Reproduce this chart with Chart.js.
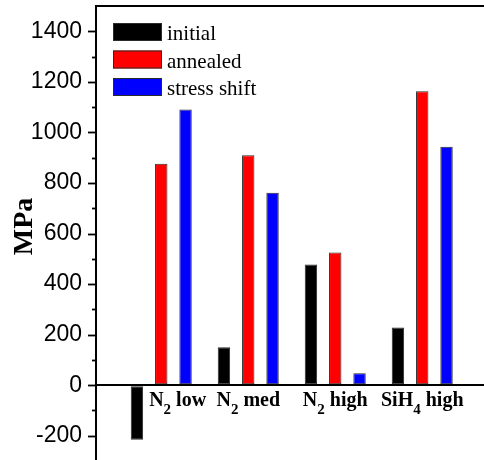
<!DOCTYPE html>
<html>
<head>
<meta charset="utf-8">
<script src="https://cdn.jsdelivr.net/npm/chart.js@4/dist/chart.umd.min.js"></script>
<style>
  html, body { margin: 0; padding: 0; background: #ffffff; }
  canvas { display: block; }
</style>
</head>
<body>
<canvas id="chart" width="484" height="460"></canvas>
<script>
// Film stress per deposition condition (MPa)
const categories = ['N₂ low', 'N₂ med', 'N₂ high', 'SiH₄ high'];
const seriesNames = ['initial', 'annealed', 'stress shift'];
const initial = [-216, 150, 477, 228];
const annealed = [876, 910, 525, 1163];
const stressShift = [1091, 761, 47, 943];
const yTickLabels = [-200, 0, 200, 400, 600, 800, 1000, 1200, 1400];
const yMinorTicks = [-100, 100, 300, 500, 700, 900, 1100, 1300];
const axisTitle = 'MPa';

const seriesColors = ['#000000', '#ff0000', '#0000ff'];
const serif = '"Liberation Serif", "Times New Roman", serif';

// one point per category, placed at x = 1, 2, 3, 4 on a linear axis
const toPoints = vals => vals.map((v, i) => ({ x: i + 1, y: v }));

const datasets = [initial, annealed, stressShift].map((vals, k) => ({
  label: seriesNames[k],
  data: toPoints(vals),
  backgroundColor: seriesColors[k],
  borderColor: '#2b2b2b',
  borderWidth: 1,
  borderSkipped: false,
  categoryPercentage: 0.838,
  barPercentage: 0.51
}));

// draws text where unicode subscript digits are rendered smaller and lowered
const SUB = { '₀': '0', '₁': '1', '₂': '2', '₃': '3', '₄': '4', '₅': '5', '₆': '6', '₇': '7', '₈': '8', '₉': '9' };
function richRuns(text) {
  const runs = [];
  for (const ch of text) {
    const sub = ch in SUB;
    const c = sub ? SUB[ch] : ch;
    const last = runs[runs.length - 1];
    if (last && last.sub === sub) last.text += c; else runs.push({ text: c, sub });
  }
  return runs;
}
function drawRich(ctx, text, x, y, align) {
  const mainFont = 'bold 20px ' + serif;
  const subFont = 'bold 15px ' + serif;
  const runs = richRuns(text);
  let total = 0;
  runs.forEach(r => { ctx.font = r.sub ? subFont : mainFont; r.w = ctx.measureText(r.text).width; total += r.w; });
  let cx = align === 'center' ? x - total / 2 : x;
  ctx.textAlign = 'left';
  ctx.textBaseline = 'alphabetic';
  runs.forEach(r => {
    ctx.font = r.sub ? subFont : mainFont;
    ctx.fillText(r.text, cx, r.sub ? y + 8 : y);
    cx += r.w;
  });
}

const decorations = {
  id: 'decorations',
  afterDraw(chart) {
    const { ctx, chartArea } = chart;
    const xs = chart.scales.x, ys = chart.scales.y;
    ctx.save();
    ctx.strokeStyle = '#000';
    ctx.fillStyle = '#000';

    // top frame line
    ctx.lineWidth = 2;
    ctx.beginPath();
    ctx.moveTo(chartArea.left - 1, chartArea.top);
    ctx.lineTo(chartArea.right, chartArea.top);
    ctx.stroke();

    // outward major / minor tick marks on the value axis
    ctx.lineWidth = 1.8;
    ys.ticks.forEach(t => {
      const y = Math.round(ys.getPixelForValue(t.value)) + 0.5;
      const len = yTickLabels.includes(t.value) ? 8 : 4;
      ctx.beginPath();
      ctx.moveTo(chartArea.left - len, y);
      ctx.lineTo(chartArea.left, y);
      ctx.stroke();
    });

    // axis title, rotated
    ctx.save();
    ctx.translate(32, (ys.getPixelForValue(1400) + ys.getPixelForValue(-200)) / 2 - 7);
    ctx.rotate(-Math.PI / 2);
    ctx.font = 'bold 28px ' + serif;
    ctx.textAlign = 'center';
    ctx.textBaseline = 'alphabetic';
    ctx.fillText(axisTitle, 0, 0);
    ctx.restore();

    // category labels just under the zero line
    const y0 = ys.getPixelForValue(0);
    const firstMeta = chart.getDatasetMeta(0);
    categories.forEach((label, i) => {
      if (initial[i] < 0) {
        const bar = firstMeta.data[i];
        drawRich(ctx, label, bar.x + bar.width / 2 + 6, y0 + 21, 'left');
      } else {
        drawRich(ctx, label, xs.getPixelForValue(i + 1), y0 + 21, 'center');
      }
    });

    // legend
    chart.data.datasets.forEach((ds, k) => {
      const top = 23 + k * 27.5;
      ctx.fillStyle = ds.backgroundColor;
      ctx.fillRect(113, top, 49, 18);
      ctx.strokeStyle = '#2b2b2b';
      ctx.lineWidth = 1;
      ctx.strokeRect(113.5, top + 0.5, 48, 17);
      ctx.fillStyle = '#000';
      ctx.font = '21px ' + serif;
      ctx.textAlign = 'left';
      ctx.textBaseline = 'alphabetic';
      ctx.fillText(ds.label, 167, top + 17);
    });
    ctx.restore();
  }
};

new Chart(document.getElementById('chart').getContext('2d'), {
  type: 'bar',
  data: { datasets },
  options: {
    responsive: false,
    animation: false,
    layout: { padding: { top: 6, left: 0, right: 0, bottom: 0 } },
    plugins: { legend: { display: false }, tooltip: { enabled: false } },
    scales: {
      x: {
        type: 'linear',
        min: 0.25,
        max: 4.71,
        offset: false,
        display: false,
        // one tick per category so bar widths follow the category spacing
        afterBuildTicks(scale) {
          scale.ticks = categories.map((_, i) => ({ value: i + 1 }));
        }
      },
      y: {
        min: -296,
        max: 1500,
        // labelled ticks every 200, unlabelled minor ticks in between
        afterBuildTicks(scale) {
          scale.ticks = yTickLabels.concat(yMinorTicks)
            .sort((a, b) => a - b)
            .map(v => ({ value: v }));
        },
        afterFit(scale) {
          scale.width = 96;
          scale.paddingTop = 0;
          scale.paddingBottom = 0;
        },
        ticks: {
          autoSkip: false,
          padding: 14,
          color: '#000',
          font: { family: '"Liberation Sans", Arial, sans-serif', size: 23 },
          callback: v => yTickLabels.includes(v) ? String(v) : ''
        },
        grid: {
          drawTicks: false,
          drawOnChartArea: true,
          lineWidth: 2,
          color: c => (c.tick && c.tick.value === 0) ? '#000' : 'rgba(0,0,0,0)'
        },
        border: { display: true, color: '#000', width: 2 }
      }
    }
  },
  plugins: [decorations]
});
</script>
</body>
</html>
